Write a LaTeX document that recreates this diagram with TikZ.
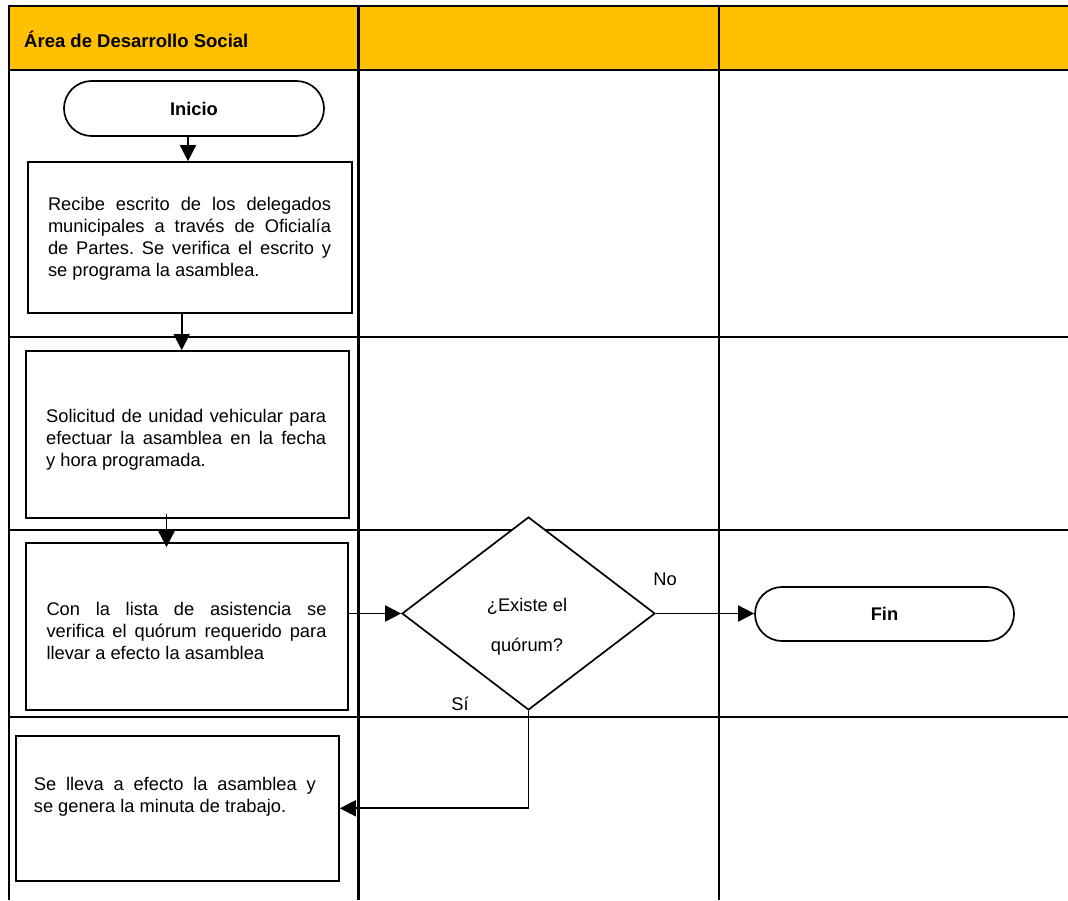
\documentclass[tikz,border=0pt]{standalone}
\usepackage{fontspec}
\setmainfont{Liberation Sans}
\usetikzlibrary{arrows.meta,shapes.geometric,shapes.misc,calc}
\definecolor{hdr}{HTML}{FFC000}
\newcommand{\jline}[2]{\makebox[#1][s]{#2}}
\frenchspacing
\begin{document}
\begin{tikzpicture}[x=1pt,y=-1pt,
  grid/.style={line width=2.4pt},
  shp/.style={draw, line width=1.7pt, fill=white, inner sep=0pt},
  boxn/.style={shp, rectangle},
  term/.style={shp, rounded rectangle, rounded rectangle arc length=180, font=\fontsize{18.3}{22}\selectfont\bfseries},
  diam/.style={shp, diamond},
  txt/.style={align=left, inner sep=0pt, font=\fontsize{18.3}{22}\selectfont\frenchspacing},
  lbl/.style={inner sep=0pt, font=\fontsize{18.3}{22}\selectfont},
  arr/.style={line width=1.7pt, -{Triangle[length=16pt,width=16pt]}}
]
\useasboundingbox (0,0) rectangle (1068,900);
% header
\fill[hdr] (9,6) rectangle (1068,70);
\node[lbl, font=\fontsize{18.5}{22}\selectfont\bfseries, anchor=west] (title) at (24,39) {Área de Desarrollo Social};
% grid
\draw[grid] (9,900) -- (9,6) -- (1068,6);
\draw[grid] (9,70) -- (1068,70);
\draw[grid] (358.6,6) -- (358.6,900);
\draw[grid] (719,6) -- (719,900);
\draw[grid] (9,337) -- (1068,337);
\draw[grid] (9,530) -- (1068,530);
\draw[grid] (9,717) -- (1068,717);

% shapes
\node[term, minimum width=260pt, minimum height=55pt] (ini) at (194,108.5) {Inicio};
\node[boxn, minimum width=324pt, minimum height=151pt] (b1) at (190,237.5) {};
\node[boxn, minimum width=323pt, minimum height=167pt] (b2) at (187.5,434.5) {};
\node[boxn, minimum width=322pt, minimum height=167pt] (b3) at (187,626.5) {};
\node[diam, minimum width=253pt, minimum height=193pt] (dia) at (528.5,613.5) {};
\node[term, minimum width=259pt, minimum height=54pt] (fin) at (884.5,614) {Fin};
\node[boxn, minimum width=323pt, minimum height=145pt] (b4) at (177.5,808.3) {};

% texts
\node[txt] (t1) at (189.5,239) {\jline{283pt}{Recibe escrito de los delegados}\\
\jline{283pt}{municipales a través de Oficialía}\\
\jline{283pt}{de Partes. Se verifica el escrito y}\\
se programa la asamblea.\hspace*{71pt}};
\node[txt] (t2) at (187,440) {\jline{280pt}{Solicitud de unidad vehicular para}\\
\jline{280pt}{efectuar la asamblea en la fecha}\\
y hora programada.\hspace*{122pt}};
\node[txt] (t3) at (186.5,631) {\jline{280pt}{Con la lista de asistencia se}\\
\jline{280pt}{verifica el quórum requerido para}\\
llevar a efecto la asamblea\hspace*{58pt}};
\node[txt] (t4) at (177,797) {\jline{282pt}{Se lleva a efecto la asamblea y}\\
se genera la minuta de trabajo.\hspace*{34pt}};
\node[lbl, align=center, font=\fontsize{18.3}{40}\selectfont] (dt) at (527,627) {¿Existe el\\quórum?};
\node[lbl] (no) at (665,579) {No};
\node[lbl] (si) at (460,704) {Sí};

% connectors
\draw[arr] ($(ini.south)+(-6,0)$) -- ($(b1.north)+(-2,0)$);
\draw[arr] ($(b1.south)+(-8.3,-1.5)$) -- ($(b2.north)+(-5.8,0)$);
\draw[arr] ($(b2.south)+(-21,-5)$) -- ($(b3.north)+(-20.5,5)$);
\draw[arr] (b3.east |- dia.west) -- (dia.west);
\draw[arr] (dia.east) -- (dia.east -| fin.west);
\draw[arr] (dia.south) |- (b4.east);
\end{tikzpicture}
\end{document}
